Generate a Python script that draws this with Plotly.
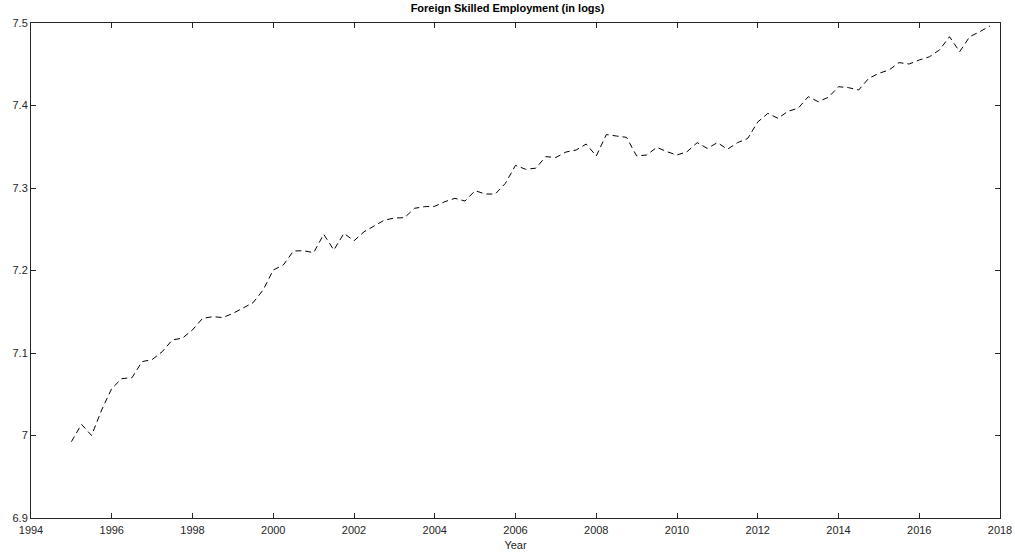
import plotly.graph_objects as go

start_year = 1995.0
values = [
    6.9925, 7.0136, 7.000, 7.031,            # 1995
    7.057, 7.069, 7.070, 7.0895,             # 1996
    7.092, 7.1016, 7.1158, 7.118,            # 1997
    7.128, 7.142, 7.144, 7.143,              # 1998
    7.148, 7.154, 7.161, 7.1764,             # 1999
    7.2006, 7.2067, 7.2236, 7.224,           # 2000
    7.2216, 7.2439, 7.2248, 7.245,           # 2001
    7.236, 7.247, 7.254, 7.261,              # 2002
    7.2636, 7.264, 7.2754, 7.2774,           # 2003
    7.2778, 7.2834, 7.2875, 7.2842,          # 2004
    7.2968, 7.2927, 7.2927, 7.3057,          # 2005
    7.3275, 7.3227, 7.324, 7.338,            # 2006
    7.337, 7.3436, 7.346, 7.3533,            # 2007
    7.3388, 7.3648, 7.363, 7.3614,           # 2008
    7.3388, 7.340, 7.3493, 7.344,            # 2009
    7.340, 7.344, 7.355, 7.348,              # 2010
    7.355, 7.347, 7.355, 7.360,              # 2011
    7.380, 7.3905, 7.3845, 7.393,            # 2012
    7.3966, 7.4107, 7.4046, 7.410,           # 2013
    7.4228, 7.4216, 7.4188, 7.433,           # 2014
    7.439, 7.443, 7.452, 7.4503,             # 2015
    7.4552, 7.459, 7.4673, 7.4834,           # 2016
    7.4652, 7.4834, 7.4895, 7.4964,          # 2017
]
years = [start_year + 0.25 * i for i in range(len(values))]

x_ticks = [1994, 1996, 1998, 2000, 2002, 2004, 2006, 2008, 2010, 2012, 2014, 2016, 2018]
y_ticks = [6.9, 7.0, 7.1, 7.2, 7.3, 7.4, 7.5]
y_tick_labels = ["6.9", "7", "7.1", "7.2", "7.3", "7.4", "7.5"]

FONT = "Liberation Sans, Arial, sans-serif"

fig = go.Figure()
fig.add_trace(go.Scatter(
    x=years, y=values, mode="lines",
    line=dict(color="black", width=1, dash="6px,4px"),
    showlegend=False,
))

axis_common = dict(
    showgrid=False, zeroline=False, automargin=False,
    showline=True, linecolor="#262626", linewidth=1,
    mirror="ticks", ticks="inside", ticklen=5, tickwidth=1, tickcolor="#262626",
    tickfont=dict(family=FONT, size=11, color="#262626"),
)

fig.update_layout(
    width=1015, height=555,
    margin=dict(l=31, r=15, t=23, b=37),
    paper_bgcolor="white", plot_bgcolor="white",
    title=dict(
        text="<b>Foreign Skilled Employment (in logs)</b>",
        x=0.5, xanchor="center", y=1 - 8.5 / 555, yanchor="middle",
        font=dict(family=FONT, size=11, color="black"),
    ),
    xaxis=dict(
        range=[1994, 2018], tickvals=x_ticks, ticktext=[str(t) for t in x_ticks],
        ticklabelstandoff=2,
        title=dict(text="Year", standoff=6,
                   font=dict(family=FONT, size=11, color="#262626")),
        **axis_common,
    ),
    yaxis=dict(
        range=[6.9, 7.5], tickvals=y_ticks, ticktext=y_tick_labels,
        **axis_common,
    ),
)

fig.write_html("out.html")
